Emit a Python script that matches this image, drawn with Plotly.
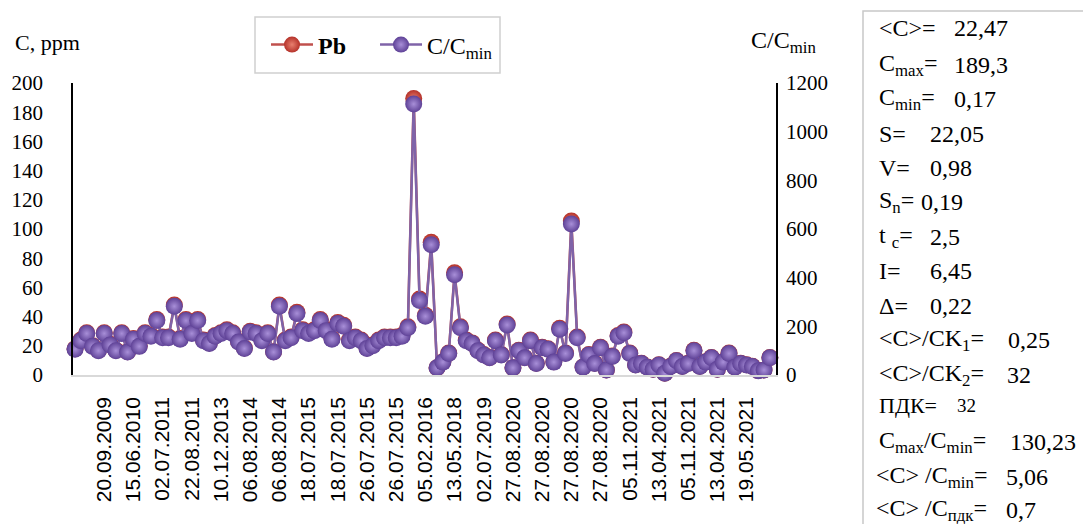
import plotly.graph_objects as go

# Pb concentration per sample, ppm
pb = [
    18, 24, 29, 20, 17, 29, 21, 17, 29, 16,
    25, 20, 29, 27, 38, 26, 26, 48, 25, 38,
    29, 38, 24, 22, 27, 29, 31, 29, 23, 18.5,
    30, 29, 24, 29, 16, 48, 24, 26, 43, 31,
    29, 31, 38, 31, 25, 36, 34, 24, 26, 24,
    18.5, 20.5, 24, 26, 26, 26, 27, 33, 189.3, 52,
    41, 91, 5, 9, 15, 70, 33, 24, 22, 17,
    14, 12, 24, 14, 35, 5, 17, 12, 24, 8,
    19, 18, 9, 32, 15, 105.5, 26, 5.5, 14, 8,
    19, 3.5, 13, 27, 29.5, 15, 7, 8, 5.5, 4,
    7, 1.2, 6, 10, 6, 8, 17, 6, 9, 12,
    4, 9, 15, 5.5, 8, 7, 6, 3, 3.5, 12,
]
c_min = 0.17
ratio = [v / c_min for v in pb]

date_labels = [
    "20.09.2009", "15.06.2010", "02.07.2011", "22.08.2011", "10.12.2013",
    "06.08.2014", "06.08.2014", "18.07.2015", "18.07.2015", "26.07.2015",
    "26.07.2015", "05.02.2016", "13.05.2018", "02.07.2019", "27.08.2020",
    "27.08.2020", "27.08.2020", "27.08.2020", "05.11.2021", "13.04.2021",
    "05.11.2021", "13.04.2021", "19.05.2021",
]
label_first, label_step = 5, 5

stat_names = [
    "&lt;C&gt;=", "C<sub>max</sub>=", "C<sub>min</sub>=", "S=", "V=",
    "S<sub>n</sub>=", "t <sub>c</sub>=", "I=", "Δ=", "&lt;C&gt;/CK<sub>1</sub>=",
    "&lt;C&gt;/CK<sub>2</sub>=", "ПДК=", "C<sub>max</sub>/C<sub>min</sub>=",
    "&lt;C&gt; /C<sub>min</sub>=", "&lt;C&gt; /C<sub>пдк</sub>=",
]
stat_values = [
    "22,47", "189,3", "0,17", "22,05", "0,98",
    "0,19", "2,5", "6,45", "0,22", "0,25",
    "32", "32", "130,23", "5,06", "0,7",
]

# ---- layout geometry (pixels) ----
W, H = 1083, 524
ml, mr, mt, mb = 73, 307, 83, 149
pw, ph = W - ml - mr, H - mt - mb


def pxx(x):
    return (x - ml) / pw


def pxy(y):
    return 1 - (y - mt) / ph


serif = "Liberation Serif"
sans = "Liberation Sans"

x_idx = list(range(len(pb)))
tickvals = [label_first + label_step * k for k in range(len(date_labels))]

fig = go.Figure()
fig.add_trace(go.Scatter(
    x=x_idx, y=pb, name="<b>Pb</b>" + "\u00a0" * 4, mode="lines+markers",
    line=dict(color="#c0504d", width=2.5),
    marker=dict(size=17, color="#b5322a",
                gradient=dict(type="radial", color="#e8806f"),
                line=dict(width=0)),
    cliponaxis=False,
))
fig.add_trace(go.Scatter(
    x=x_idx, y=ratio, name="C/C<sub>min</sub>", mode="lines+markers",
    yaxis="y2",
    line=dict(color="#7f63a8", width=2.5),
    marker=dict(size=17, color="#5e4196",
                gradient=dict(type="radial", color="#a88fd8"),
                line=dict(width=0)),
    cliponaxis=False,
))

annotations = [
    dict(text="C, ppm", x=pxx(13), y=pxy(42), xanchor="left", yanchor="middle",
         font=dict(family=serif, size=22, color="black")),
    dict(text="C/C<sub>min</sub>", x=pxx(749), y=pxy(42), xanchor="left",
         yanchor="middle", font=dict(family=serif, size=24, color="black")),
]

# statistics panel
row_y = [28, 65, 99, 134, 168, 202, 237, 271, 306, 340, 375, 405, 442, 477, 510]
value_x = [952, 952, 952, 928, 928, 919, 928, 928, 928, 1006, 1005, 955, 1008, 1004, 1004]
for i, (name, val) in enumerate(zip(stat_names, stat_values)):
    name_x = 874 if i >= 13 else 877
    annotations.append(dict(text=name, x=pxx(name_x), y=pxy(row_y[i]),
                            xanchor="left", yanchor="middle",
                            font=dict(family=serif, size=24 if i != 11 else 22, color="black")))
    annotations.append(dict(text=val, x=pxx(value_x[i]), y=pxy(row_y[i]),
                            xanchor="left", yanchor="middle",
                            font=dict(family=serif, size=24 if i != 11 else 19, color="black")))
for a in annotations:
    a.update(xref="paper", yref="paper", showarrow=False)

fig.update_layout(
    width=W, height=H,
    margin=dict(l=ml, r=mr, t=mt, b=mb, autoexpand=False),
    paper_bgcolor="white", plot_bgcolor="white",
    showlegend=True,
    legend=dict(
        orientation="h", xref="container", yref="container",
        x=266 / W, y=1 - 45 / H, xanchor="left", yanchor="middle",
        borderwidth=0, bgcolor="rgba(0,0,0,0)",
        font=dict(family=serif, size=24, color="black"),
        itemwidth=42,
    ),
    xaxis=dict(
        range=[-0.35, 120.05], showgrid=False, zeroline=False,
        showline=True, linecolor="#d9d9d9", linewidth=1.5,
        tickmode="array", tickvals=tickvals, ticktext=date_labels,
        tickangle=-90, ticks="", ticklabelstandoff=12,
        tickfont=dict(family=sans, size=21, color="black"),
    ),
    yaxis=dict(
        range=[0, 200], dtick=20, showgrid=False, zeroline=False,
        showline=True, linecolor="black", linewidth=1.5, ticks="",
        ticklabelstandoff=24,
        tickfont=dict(family=serif, size=21, color="black"),
    ),
    yaxis2=dict(
        range=[0, 1200], dtick=200, overlaying="y", side="right",
        showgrid=False, zeroline=False,
        showline=True, linecolor="black", linewidth=1.5, ticks="",
        ticklabelstandoff=4,
        tickfont=dict(family=serif, size=21, color="black"),
    ),
    shapes=[
        dict(type="rect", xref="paper", yref="paper",
             x0=pxx(863), x1=pxx(1095), y0=pxy(540), y1=pxy(11),
             line=dict(color="#c8c8c8", width=1.5)),
        dict(type="rect", xref="paper", yref="paper",
             x0=pxx(255), x1=pxx(500), y0=pxy(73), y1=pxy(17),
             line=dict(color="#d0d0d0", width=1.5)),
    ],
    annotations=annotations,
)

fig.write_html("out.html")
